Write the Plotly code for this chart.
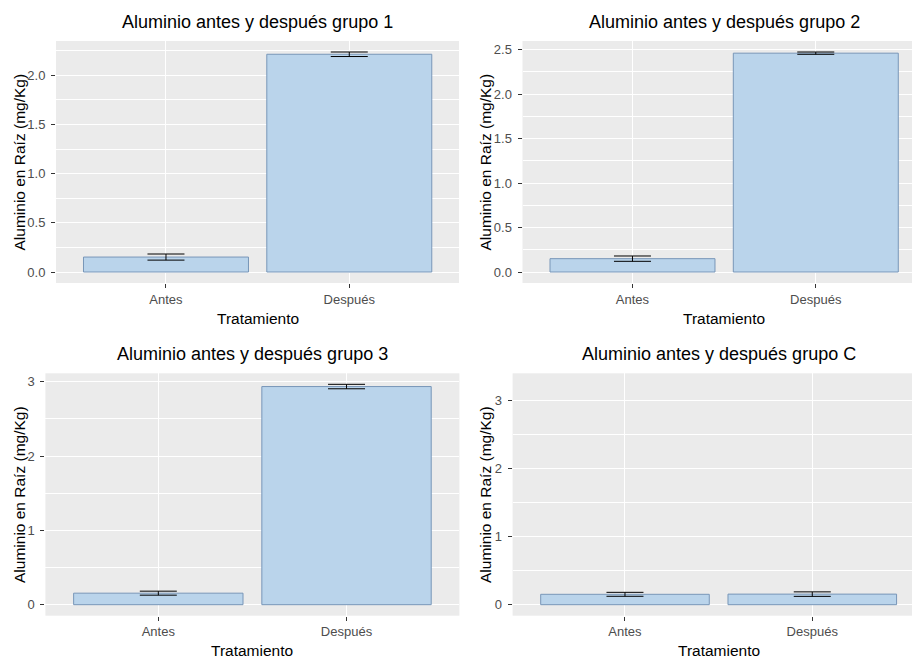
import plotly.graph_objects as go

# ---------------- data ----------------
categories = ["Antes", "Después"]
titles = ["Aluminio antes y después grupo 1", "Aluminio antes y después grupo 2",
          "Aluminio antes y después grupo 3", "Aluminio antes y después grupo C"]
means_g1 = [0.152, 2.215]
se_g1 = [0.031, 0.023]
means_g2 = [0.150, 2.460]
se_g2 = [0.030, 0.013]
means_g3 = [0.155, 2.935]
se_g3 = [0.027, 0.030]
means_gc = [0.152, 0.155]
se_gc = [0.029, 0.033]
y_major_step = [0.5, 0.5, 1, 1]
y_upper_limit = [None, None, None, 3.23]   # group C uses a fixed axis limit
x_label = "Tratamiento"
y_label = "Aluminio en Raíz (mg/Kg)"

means = [means_g1, means_g2, means_g3, means_gc]
ses = [se_g1, se_g2, se_g3, se_gc]

# ---------------- layout geometry (pixels) ----------------
W, H = 912, 659
FONT = "Liberation Sans, Arial, sans-serif"
FILL = "#BAD4EB"
EDGE = "#7896B8"
# plot area pixel boxes: left, right, top, bottom, px per category
boxes = [
    (56.0, 459.0, 41.0, 283.0, 183.3),
    (522.5, 912.0, 41.0, 283.0, 183.3),
    (45.4, 459.4, 373.3, 615.7, 188.2),
    (512.6, 912.0, 373.3, 615.7, 187.3),
]

def px(x):
    return x / W

def py(y):
    return 1 - y / H

fig = go.Figure()
annotations = []
for i in range(4):
    l, r, t, b, step = boxes[i]
    sfx = "" if i == 0 else str(i + 1)
    fig.add_trace(go.Bar(
        x=categories, y=means[i],
        width=0.9,
        marker=dict(color=FILL, line=dict(color=EDGE, width=1)),
        error_y=dict(type="data", array=ses[i], color="black", thickness=1, width=18.5),
        xaxis="x" + sfx, yaxis="y" + sfx, showlegend=False, hoverinfo="skip",
    ))
    top = max(m + s for m, s in zip(means[i], ses[i]))
    lim = y_upper_limit[i] if y_upper_limit[i] is not None else top
    yr = [-0.05 * lim, 1.05 * lim]
    xr = [-0.6, -0.6 + (r - l) / step]
    dt = y_major_step[i]
    fmt = ".1f" if dt < 1 else "d"
    fig.update_layout(**{
        "xaxis" + sfx: dict(
            domain=[px(l), px(r)], anchor="y" + sfx, range=xr,
            type="category", showgrid=True, gridcolor="white", gridwidth=1.3,
            ticks="outside", ticklen=4, tickwidth=1, tickcolor="#333333",
            ticklabelstandoff=0,
            tickfont=dict(family=FONT, size=13, color="#4D4D4D"),
            zeroline=False, showline=False, fixedrange=True,
        ),
        "yaxis" + sfx: dict(
            domain=[py(b), py(t)], anchor="x" + sfx, range=yr,
            tick0=0, dtick=dt, tickformat=fmt,
            showgrid=True, gridcolor="white", gridwidth=1.3,
            minor=dict(tick0=dt / 2, dtick=dt, showgrid=True, gridcolor="white", gridwidth=0.6),
            ticks="outside", ticklen=4, tickwidth=1, tickcolor="#333333",
            ticklabelstandoff=3,
            tickfont=dict(family=FONT, size=13, color="#4D4D4D"),
            zeroline=False, showline=False, fixedrange=True,
        ),
    })
    # title centered over the (uncropped) panel
    full_r = l + 2.2 * step
    cx = (l + full_r) / 2
    annotations.append(dict(text=titles[i], x=px(cx), y=py(t - 19), xref="paper", yref="paper",
                            xanchor="center", yanchor="middle", showarrow=False,
                            font=dict(family=FONT, size=18, color="black")))
    annotations.append(dict(text=x_label, x=px(cx), y=py(b + 35), xref="paper", yref="paper",
                            xanchor="center", yanchor="middle", showarrow=False,
                            font=dict(family=FONT, size=15.5, color="black")))
    ytx = 19.5 if i % 2 == 0 else 485.5
    annotations.append(dict(text=y_label, x=px(ytx), y=py((t + b) / 2), xref="paper", yref="paper",
                            xanchor="center", yanchor="middle", showarrow=False, textangle=-90,
                            font=dict(family=FONT, size=15.5, color="black")))

fig.update_layout(
    width=W, height=H,
    margin=dict(l=0, r=0, t=0, b=0),
    paper_bgcolor="white", plot_bgcolor="#EBEBEB",
    font=dict(family=FONT),
    annotations=annotations,
    bargap=0.1,
)

fig.write_html("out.html", config={"displayModeBar": False},
               post_script="document.body.style.margin='0';document.body.style.padding='0';"
                           "document.body.style.overflow='hidden';")
